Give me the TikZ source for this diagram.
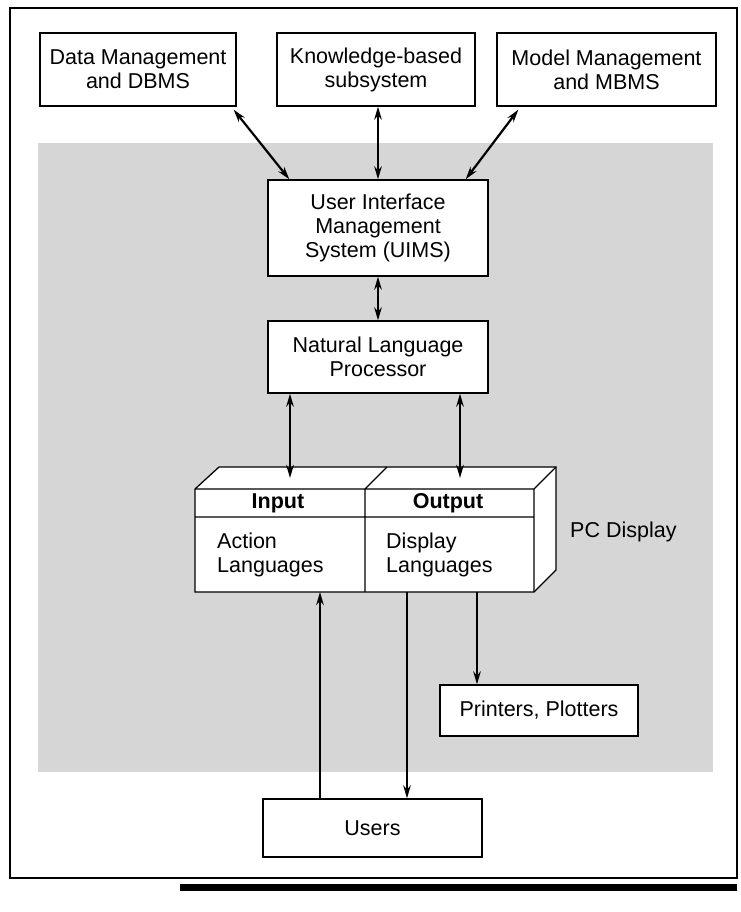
\documentclass[tikz,border=0pt]{standalone}
\usepackage{fontspec}
\setmainfont{Liberation Sans}
\usetikzlibrary{calc,arrows.meta}
\begin{document}
\begin{tikzpicture}[x=1pt,y=-1pt,
  txt/.style={font=\fontsize{21.5}{24}\selectfont},
  box/.style={txt, draw, line width=1.3pt, fill=white, align=center, inner sep=0pt},
  lbl/.style={txt, inner sep=0pt},
  conn/.style={line width=2.2pt, -{Stealth[length=13pt,width=7.5pt]}},
  biconn/.style={line width=2.2pt, {Stealth[length=13pt,width=7.5pt]}-{Stealth[length=13pt,width=7.5pt]}},
  face/.style={draw, line width=1.3pt, fill=white, line join=miter}]
\useasboundingbox (0,0) rectangle (740,912);
\fill[white] (0,0) rectangle (740,912);

% frame, rule under it and the shaded interface area
\draw[line width=1.4pt] (10,8) rectangle (737,878);
\fill[black] (180,884) rectangle (737,891);
\fill[black!16] (38,143) rectangle (713,772);

% subsystems
\node[box, minimum width=196pt, minimum height=73pt] (dm) at (138,69.5) {Data Management\\and DBMS};
\node[box, minimum width=198pt, minimum height=73pt] (kb) at (376,69.5) {Knowledge-based\\subsystem};
\node[box, minimum width=219pt, minimum height=73pt] (mm) at (606.5,69.5) {Model Management\\and MBMS};

\node[box, minimum width=220pt, minimum height=96pt] (uims) at (378,228) {User Interface\\Management\\System (UIMS)};
\node[box, minimum width=220pt, minimum height=72pt] (nlp) at (378,357) {Natural Language\\Processor};

\node[box, minimum width=198pt, minimum height=51pt] (prn) at (539,710.5) {Printers, Plotters};
\node[box, minimum width=219pt, minimum height=58pt] (users) at (372.5,828) {Users};

% PC display block
\coordinate (fTL) at (195,489);
\coordinate (fTR) at (534,489);
\coordinate (fBL) at (195,592);
\coordinate (fBR) at (534,592);
\coordinate (bTL) at (219,467);
\coordinate (bTR) at (556,467);
\coordinate (bBR) at (556,570);
\coordinate (divT) at (365,489);
\coordinate (divB) at (365,592);
\coordinate (divK) at (387,467);
\coordinate (hdL) at (195,517);
\coordinate (hdR) at (534,517);
\draw[face] (fTL) -- (bTL) -- (bTR) -- (bBR) -- (fBR) -- (fBL) -- cycle;
\draw[line width=1.3pt] (fTL) -- (fTR) -- (bTR) (fTR) -- (fBR)
  (divK) -- (divT) -- (divB) (hdL) -- (hdR);

\node[lbl, font=\fontsize{21.5}{24}\selectfont\bfseries] (inp) at (278,503) {Input};
\node[lbl, font=\fontsize{21.5}{24}\selectfont\bfseries] (outp) at (448,503) {Output};
\node[lbl, align=left, anchor=west] (act) at (217,555) {Action\\Languages};
\node[lbl, align=left, anchor=west] (disp) at (386,555) {Display\\Languages};
\node[lbl, anchor=west] (pc) at (570,532) {PC Display};

% connector ends on the block
\coordinate (inTop) at (290,478);
\coordinate (outTop) at (460,478);
\coordinate (inBot) at (320,592);
\coordinate (outBot) at (407,592);
\coordinate (prBot) at (477,592);

% connectors
\draw[biconn] ($(dm.south east)+(-3,3)$) -- ($(uims.north west)+(22,0)$);
\draw[biconn] (uims.north |- kb.south) -- (uims.north);
\draw[biconn] ($(mm.south west)+(22,3)$) -- ($(uims.north east)+(-23,0)$);
\draw[biconn] (uims.south) -- (nlp.north);
\draw[biconn] (nlp.south -| inTop) -- (inTop);
\draw[biconn] (nlp.south -| outTop) -- (outTop);
\draw[conn] (users.north -| inBot) -- (inBot);
\draw[conn] (outBot) -- (users.north -| outBot);
\draw[conn] (prBot) -- (prn.north -| prBot);
\end{tikzpicture}
\end{document}
